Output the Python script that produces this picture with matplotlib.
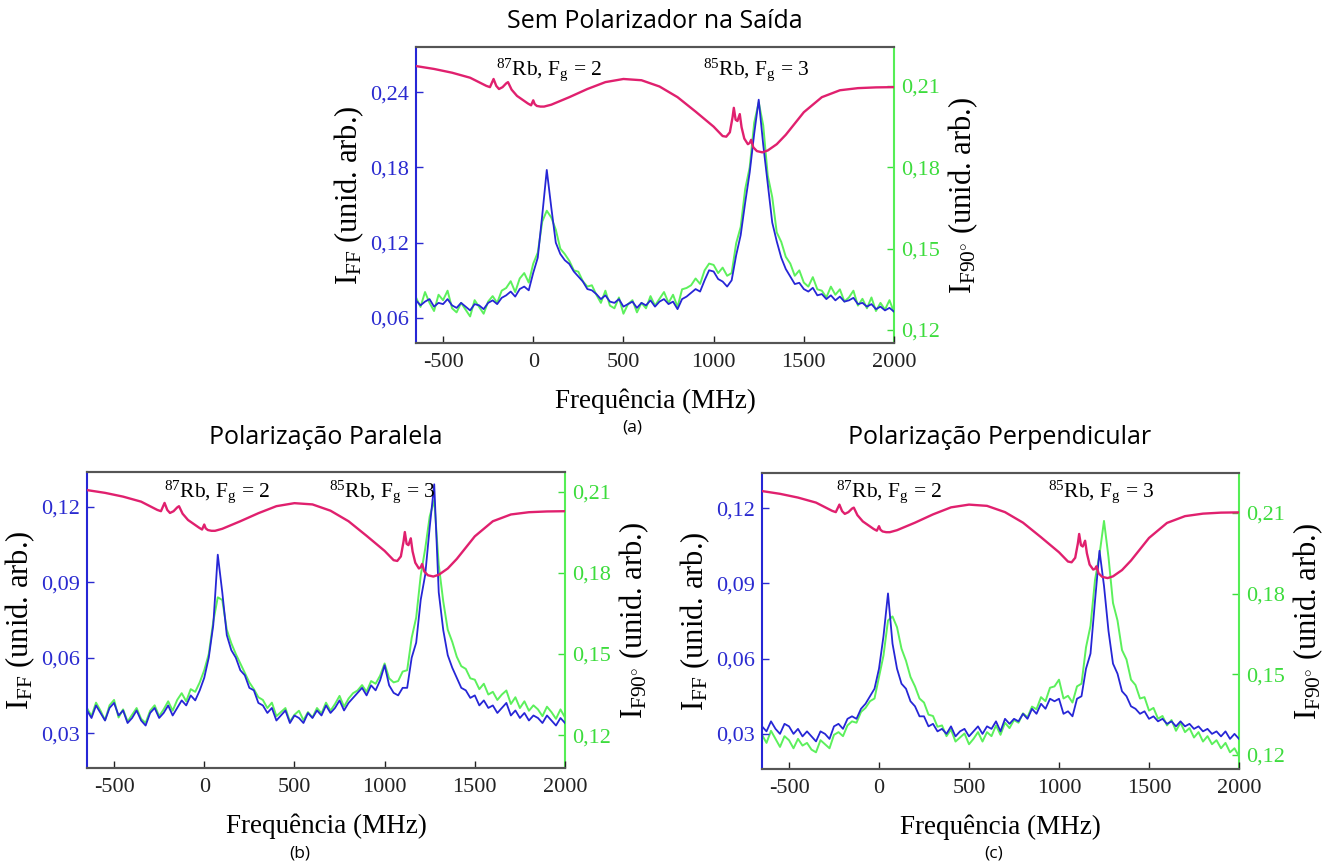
import numpy as np
import matplotlib
matplotlib.use("Agg")
import matplotlib.pyplot as plt
from matplotlib.ticker import FixedLocator, FixedFormatter
from matplotlib.transforms import blended_transform_factory

plt.rcParams['font.family'] = ['Liberation Serif', 'DejaVu Serif']
plt.rcParams['mathtext.fontset'] = 'custom'
plt.rcParams['mathtext.rm'] = 'Liberation Serif'
plt.rcParams['mathtext.it'] = 'Liberation Serif:italic'
plt.rcParams['mathtext.bf'] = 'Liberation Serif:bold'

# ---------------- data ----------------
freq = np.arange(-650, 2001, 25)  # MHz grid for the fluorescence traces

# Panel (a) - Sem polarizador
blue_a = [0.074, 0.070, 0.073, 0.075, 0.069, 0.072, 0.071, 0.075, 0.070, 0.068,
          0.072, 0.069, 0.066, 0.071, 0.070, 0.067, 0.072, 0.074, 0.071, 0.076,
          0.078, 0.081, 0.077, 0.083, 0.085, 0.082, 0.096, 0.108, 0.142, 0.178,
          0.148, 0.120, 0.111, 0.106, 0.103, 0.097, 0.093, 0.089, 0.083, 0.082,
          0.079, 0.075, 0.078, 0.073, 0.072, 0.075, 0.069, 0.071, 0.073, 0.068,
          0.072, 0.070, 0.074, 0.069, 0.073, 0.075, 0.071, 0.073, 0.067, 0.075,
          0.077, 0.080, 0.083, 0.081, 0.090, 0.098, 0.097, 0.091, 0.089, 0.085,
          0.090, 0.110, 0.126, 0.152, 0.176, 0.207, 0.234, 0.198, 0.167, 0.136,
          0.121, 0.108, 0.099, 0.093, 0.087, 0.088, 0.083, 0.081, 0.084, 0.078,
          0.079, 0.075, 0.078, 0.074, 0.077, 0.073, 0.074, 0.076, 0.071, 0.072,
          0.069, 0.071, 0.067, 0.069, 0.066, 0.068, 0.065]
green_a = [0.1320, 0.1285, 0.1340, 0.1300, 0.1270, 0.1330, 0.1310, 0.1345, 0.1280, 0.1265,
           0.1300, 0.1275, 0.1250, 0.1310, 0.1285, 0.1260, 0.1305, 0.1325, 0.1300, 0.1345,
           0.1355, 0.1380, 0.1340, 0.1390, 0.1410, 0.1375, 0.1445, 0.1485, 0.1600, 0.1640,
           0.1615, 0.1570, 0.1500, 0.1480, 0.1455, 0.1420, 0.1415, 0.1380, 0.1360, 0.1365,
           0.1330, 0.1300, 0.1345, 0.1290, 0.1280, 0.1320, 0.1260, 0.1295, 0.1310, 0.1265,
           0.1300, 0.1280, 0.1325, 0.1290, 0.1315, 0.1340, 0.1300, 0.1330, 0.1285, 0.1350,
           0.1355, 0.1365, 0.1390, 0.1370, 0.1420, 0.1445, 0.1440, 0.1410, 0.1430, 0.1400,
           0.1410, 0.1520, 0.1580, 0.1720, 0.1800, 0.1965, 0.2040, 0.1955, 0.1770, 0.1690,
           0.1560, 0.1525, 0.1470, 0.1445, 0.1400, 0.1420, 0.1375, 0.1360, 0.1395, 0.1350,
           0.1345, 0.1320, 0.1360, 0.1330, 0.1350, 0.1305, 0.1320, 0.1345, 0.1290, 0.1315,
           0.1280, 0.1320, 0.1270, 0.1300, 0.1275, 0.1310, 0.1265]

# Reference (saturated absorption) trace frequencies
ref_freq = [-650, -550, -450, -350, -260, -240, -220, -205, -190, -170, -150, -140, -120,
            -90, -60, -30, -12, 0, 8, 20, 40, 60, 100, 200, 300, 400, 500, 600, 700, 800,
            900, 1000, 1050, 1070, 1090, 1105, 1112, 1122, 1132, 1145, 1155, 1170, 1190,
            1200, 1208, 1220, 1240, 1270, 1300, 1350, 1400, 1450, 1500, 1600, 1700, 1800,
            1900, 2000]
pink_a = [0.2608, 0.2585, 0.2555, 0.2515, 0.2450, 0.2440, 0.2505, 0.2450, 0.2425, 0.2440,
          0.2470, 0.2480, 0.2420, 0.2370, 0.2340, 0.2310, 0.2295, 0.2335, 0.2305, 0.2290,
          0.2285, 0.2285, 0.2300, 0.2360, 0.2425, 0.2480, 0.2505, 0.2495, 0.2445, 0.2360,
          0.2245, 0.2125, 0.2050, 0.2045, 0.2080, 0.2200, 0.2275, 0.2180, 0.2170, 0.2225,
          0.2120, 0.2030, 0.1985, 0.1995, 0.2020, 0.1960, 0.1930, 0.1920, 0.1935, 0.1985,
          0.2060, 0.2150, 0.2240, 0.2360, 0.2415, 0.2432, 0.2438, 0.2440]

# Panel (b) - Polarização paralela
blue_b = [0.039, 0.036, 0.041, 0.038, 0.035, 0.040, 0.042, 0.037, 0.039, 0.034,
          0.036, 0.039, 0.035, 0.033, 0.038, 0.040, 0.036, 0.038, 0.041, 0.037,
          0.040, 0.043, 0.041, 0.045, 0.043, 0.047, 0.052, 0.060, 0.073, 0.101,
          0.086, 0.069, 0.063, 0.060, 0.055, 0.053, 0.048, 0.047, 0.042, 0.041,
          0.038, 0.040, 0.035, 0.037, 0.039, 0.034, 0.037, 0.036, 0.034, 0.038,
          0.036, 0.039, 0.037, 0.041, 0.038, 0.040, 0.043, 0.039, 0.042, 0.044,
          0.046, 0.048, 0.045, 0.049, 0.047, 0.051, 0.057, 0.049, 0.046, 0.045,
          0.048, 0.048, 0.060, 0.066, 0.083, 0.093, 0.112, 0.129, 0.086, 0.071,
          0.061, 0.056, 0.052, 0.048, 0.047, 0.044, 0.045, 0.041, 0.043, 0.040,
          0.041, 0.038, 0.040, 0.042, 0.037, 0.039, 0.036, 0.038, 0.035, 0.037,
          0.036, 0.034, 0.037, 0.035, 0.033, 0.036, 0.034]
green_b = [0.1300, 0.1270, 0.1320, 0.1290, 0.1255, 0.1310, 0.1330, 0.1265, 0.1295, 0.1250,
           0.1275, 0.1300, 0.1260, 0.1245, 0.1290, 0.1310, 0.1270, 0.1295, 0.1325, 0.1290,
           0.1330, 0.1355, 0.1325, 0.1370, 0.1360, 0.1395, 0.1440, 0.1500, 0.1620, 0.1710,
           0.1700, 0.1590, 0.1540, 0.1500, 0.1465, 0.1430, 0.1395, 0.1370, 0.1340, 0.1330,
           0.1300, 0.1320, 0.1270, 0.1285, 0.1300, 0.1250, 0.1275, 0.1290, 0.1255, 0.1285,
           0.1265, 0.1300, 0.1280, 0.1320, 0.1290, 0.1315, 0.1345, 0.1305, 0.1335, 0.1355,
           0.1365, 0.1385, 0.1360, 0.1400, 0.1390, 0.1420, 0.1465, 0.1410, 0.1395, 0.1400,
           0.1435, 0.1440, 0.1560, 0.1635, 0.1790, 0.1890, 0.2010, 0.2070, 0.1830, 0.1695,
           0.1590, 0.1545, 0.1490, 0.1455, 0.1445, 0.1410, 0.1405, 0.1370, 0.1390, 0.1350,
           0.1360, 0.1330, 0.1350, 0.1365, 0.1315, 0.1340, 0.1300, 0.1325, 0.1290, 0.1310,
           0.1295, 0.1270, 0.1305, 0.1285, 0.1260, 0.1295, 0.1265]
pink_b = [0.1267, 0.1256, 0.1241, 0.1221, 0.1188, 0.1183, 0.1216, 0.1188, 0.1176, 0.1183,
          0.1198, 0.1203, 0.1173, 0.1148, 0.1133, 0.1118, 0.1110, 0.1130, 0.1115, 0.1108,
          0.1105, 0.1105, 0.1113, 0.1143, 0.1175, 0.1203, 0.1215, 0.1210, 0.1185, 0.1143,
          0.1085, 0.1025, 0.0988, 0.0985, 0.1003, 0.1063, 0.1100, 0.1053, 0.1048, 0.1075,
          0.1023, 0.0978, 0.0955, 0.0960, 0.0973, 0.0943, 0.0928, 0.0923, 0.0930, 0.0955,
          0.0993, 0.1038, 0.1083, 0.1143, 0.1170, 0.1179, 0.1182, 0.1183]

# Panel (c) - Polarização perpendicular
blue_c = [0.033, 0.031, 0.035, 0.032, 0.030, 0.034, 0.033, 0.030, 0.032, 0.029,
          0.031, 0.029, 0.027, 0.031, 0.030, 0.028, 0.033, 0.034, 0.032, 0.036,
          0.037, 0.036, 0.040, 0.042, 0.045, 0.048, 0.056, 0.069, 0.086, 0.066,
          0.056, 0.050, 0.048, 0.043, 0.041, 0.037, 0.037, 0.033, 0.034, 0.031,
          0.032, 0.030, 0.033, 0.029, 0.031, 0.032, 0.029, 0.031, 0.033, 0.030,
          0.033, 0.032, 0.035, 0.031, 0.036, 0.034, 0.036, 0.035, 0.038, 0.036,
          0.040, 0.038, 0.042, 0.040, 0.044, 0.043, 0.044, 0.038, 0.039, 0.037,
          0.044, 0.045, 0.056, 0.062, 0.083, 0.103, 0.089, 0.071, 0.058, 0.054,
          0.047, 0.045, 0.041, 0.040, 0.038, 0.039, 0.036, 0.037, 0.035, 0.036,
          0.034, 0.035, 0.033, 0.035, 0.033, 0.034, 0.032, 0.033, 0.031, 0.032,
          0.030, 0.031, 0.029, 0.031, 0.028, 0.030, 0.028]
green_c = [0.1275, 0.1245, 0.1290, 0.1260, 0.1230, 0.1270, 0.1255, 0.1225, 0.1260, 0.1235,
           0.1245, 0.1220, 0.1210, 0.1255, 0.1240, 0.1225, 0.1275, 0.1285, 0.1270, 0.1310,
           0.1325, 0.1320, 0.1360, 0.1375, 0.1400, 0.1410, 0.1490, 0.1570, 0.1700, 0.1715,
           0.1675, 0.1595, 0.1550, 0.1490, 0.1455, 0.1410, 0.1395, 0.1350, 0.1345, 0.1305,
           0.1310, 0.1270, 0.1295, 0.1250, 0.1265, 0.1280, 0.1240, 0.1260, 0.1285, 0.1250,
           0.1285, 0.1270, 0.1310, 0.1275, 0.1320, 0.1300, 0.1330, 0.1320, 0.1355, 0.1340,
           0.1380, 0.1370, 0.1415, 0.1400, 0.1450, 0.1455, 0.1480, 0.1410, 0.1420, 0.1395,
           0.1455, 0.1465, 0.1600, 0.1680, 0.1850, 0.1945, 0.2070, 0.1935, 0.1765, 0.1700,
           0.1590, 0.1555, 0.1480, 0.1460, 0.1410, 0.1415, 0.1365, 0.1375, 0.1335, 0.1345,
           0.1310, 0.1330, 0.1290, 0.1320, 0.1285, 0.1300, 0.1265, 0.1285, 0.1250, 0.1270,
           0.1240, 0.1255, 0.1225, 0.1245, 0.1210, 0.1225, 0.1195]
pink_c = [0.1268, 0.1257, 0.1242, 0.1222, 0.1189, 0.1184, 0.1214, 0.1188, 0.1177, 0.1184,
          0.1198, 0.1202, 0.1172, 0.1147, 0.1132, 0.1117, 0.1110, 0.1128, 0.1114, 0.1107,
          0.1104, 0.1104, 0.1112, 0.1142, 0.1175, 0.1203, 0.1214, 0.1209, 0.1184, 0.1142,
          0.1084, 0.1024, 0.0987, 0.0984, 0.1002, 0.1060, 0.1097, 0.1052, 0.1047, 0.1070,
          0.1020, 0.0975, 0.0955, 0.0958, 0.0968, 0.0940, 0.0926, 0.0921, 0.0928, 0.0953,
          0.0991, 0.1036, 0.1081, 0.1141, 0.1168, 0.1178, 0.1182, 0.1183]

# axis ticks
x_ticks = [-500, 0, 500, 1000, 1500, 2000]
left_ticks_a = [0.06, 0.12, 0.18, 0.24]
left_ticks_bc = [0.03, 0.06, 0.09, 0.12]
right_ticks = [0.12, 0.15, 0.18, 0.21]

# ---------------- style ----------------
BLUE = '#2626d6'
GREEN = '#5cf05c'
PINK = '#e0206e'
SPINE_GRAY = '#555555'
TICK_BLUE = '#2a2ad0'
TICK_GREEN = '#3ddc3d'

fig = plt.figure(figsize=(13.27, 8.67), dpi=100)

def fmt(v):
    return ('%.2f' % v).replace('.', ',')

def make_panel(rect, blue, green, pink, ylim_l, ylim_r, lticks, title, title_xy,
               cap, cap_xy, ann87, ann85, ann_y):
    ax = fig.add_axes(rect)
    ax2 = ax.twinx()
    ax.set_zorder(ax2.get_zorder() + 1)
    ax.patch.set_visible(False)

    ax2.plot(freq, green, color=GREEN, lw=1.4, zorder=2)
    ax.plot(freq, blue, color=BLUE, lw=1.3, zorder=3)
    ax.plot(ref_freq, pink, color=PINK, lw=1.7, zorder=4)

    ax.set_xlim(-650, 2000)
    ax.set_ylim(*ylim_l)
    ax2.set_ylim(*ylim_r)

    ax.xaxis.set_major_locator(FixedLocator(x_ticks))
    ax.xaxis.set_major_formatter(FixedFormatter([str(t) for t in x_ticks]))
    ax.yaxis.set_major_locator(FixedLocator(lticks))
    ax.yaxis.set_major_formatter(FixedFormatter([fmt(t) for t in lticks]))
    ax2.yaxis.set_major_locator(FixedLocator(right_ticks))
    ax2.yaxis.set_major_formatter(FixedFormatter([fmt(t) for t in right_ticks]))

    ax.tick_params(axis='x', direction='in', length=5, width=1, labelsize=16,
                   colors='#222222', pad=7)
    ax.tick_params(axis='y', direction='in', length=5, width=1, labelsize=16,
                   colors=TICK_BLUE, pad=5)
    ax2.tick_params(axis='y', direction='in', length=5, width=1, labelsize=16,
                    colors=TICK_GREEN, pad=5)

    for a in (ax, ax2):
        a.spines['top'].set_color(SPINE_GRAY)
        a.spines['bottom'].set_color(SPINE_GRAY)
        a.spines['top'].set_linewidth(1.5)
        a.spines['bottom'].set_linewidth(1.5)
    ax.spines['left'].set_color(BLUE)
    ax.spines['left'].set_linewidth(1.5)
    ax.spines['right'].set_visible(False)
    ax2.spines['left'].set_visible(False)
    ax2.spines['right'].set_color('#55ee55')
    ax2.spines['right'].set_linewidth(1.5)

    ax.set_xlabel('Frequência (MHz)', fontsize=19.5, labelpad=12)
    ax.set_ylabel(r'$\mathrm{I_{FF}}$ (unid. arb.)', fontsize=22, labelpad=3)
    ax2.set_ylabel(r'$\mathrm{I_{F90^{\circ}}}$ (unid. arb.)', fontsize=22, labelpad=5)

    tr = blended_transform_factory(ax.transData, ax.transAxes)
    ax.text(ann87, ann_y, r'$^{87}$Rb, F$_\mathrm{g}$ = 2', transform=tr,
            fontsize=15.5, va='center', ha='left', zorder=6)
    ax.text(ann85, ann_y, r'$^{85}$Rb, F$_\mathrm{g}$ = 3', transform=tr,
            fontsize=15.5, va='center', ha='left', zorder=6)

    fig.text(title_xy[0], title_xy[1], title, family=['Open Sans', 'DejaVu Sans'],
             fontsize=18, ha='center', va='center')
    fig.text(cap_xy[0], cap_xy[1], cap, family=['Open Sans', 'DejaVu Sans'],
             fontsize=12.5, ha='center', va='center')
    return ax, ax2

W = 478 / 1327
H = 296 / 867

make_panel([416 / 1327, 1 - 343 / 867, W, H], blue_a, green_a, pink_a,
           (0.040, 0.276), (0.1152, 0.2244), left_ticks_a,
           'Sem Polarizador na Saída', (655 / 1327, 1 - 22 / 867),
           '(a)', (632 / 1327, 1 - 428 / 867), -205, 940, 0.922)

make_panel([87 / 1327, 1 - 768 / 867, W, H], blue_b, green_b, pink_b,
           (0.0161, 0.1339), (0.1078, 0.2174), left_ticks_bc,
           'Polarização Paralela', (326 / 1327, 1 - 438 / 867),
           '(b)', (300 / 1327, 1 - 853 / 867), -225, 690, 0.932)

make_panel([762 / 1327, 1 - 769 / 867, 477 / 1327, H], blue_c, green_c, pink_c,
           (0.0160, 0.1340), (0.1148, 0.2248), left_ticks_bc,
           'Polarização Perpendicular', (1000 / 1327, 1 - 438 / 867),
           '(c)', (994 / 1327, 1 - 853 / 867), -240, 940, 0.936)

fig.savefig('out.png', dpi=100)
